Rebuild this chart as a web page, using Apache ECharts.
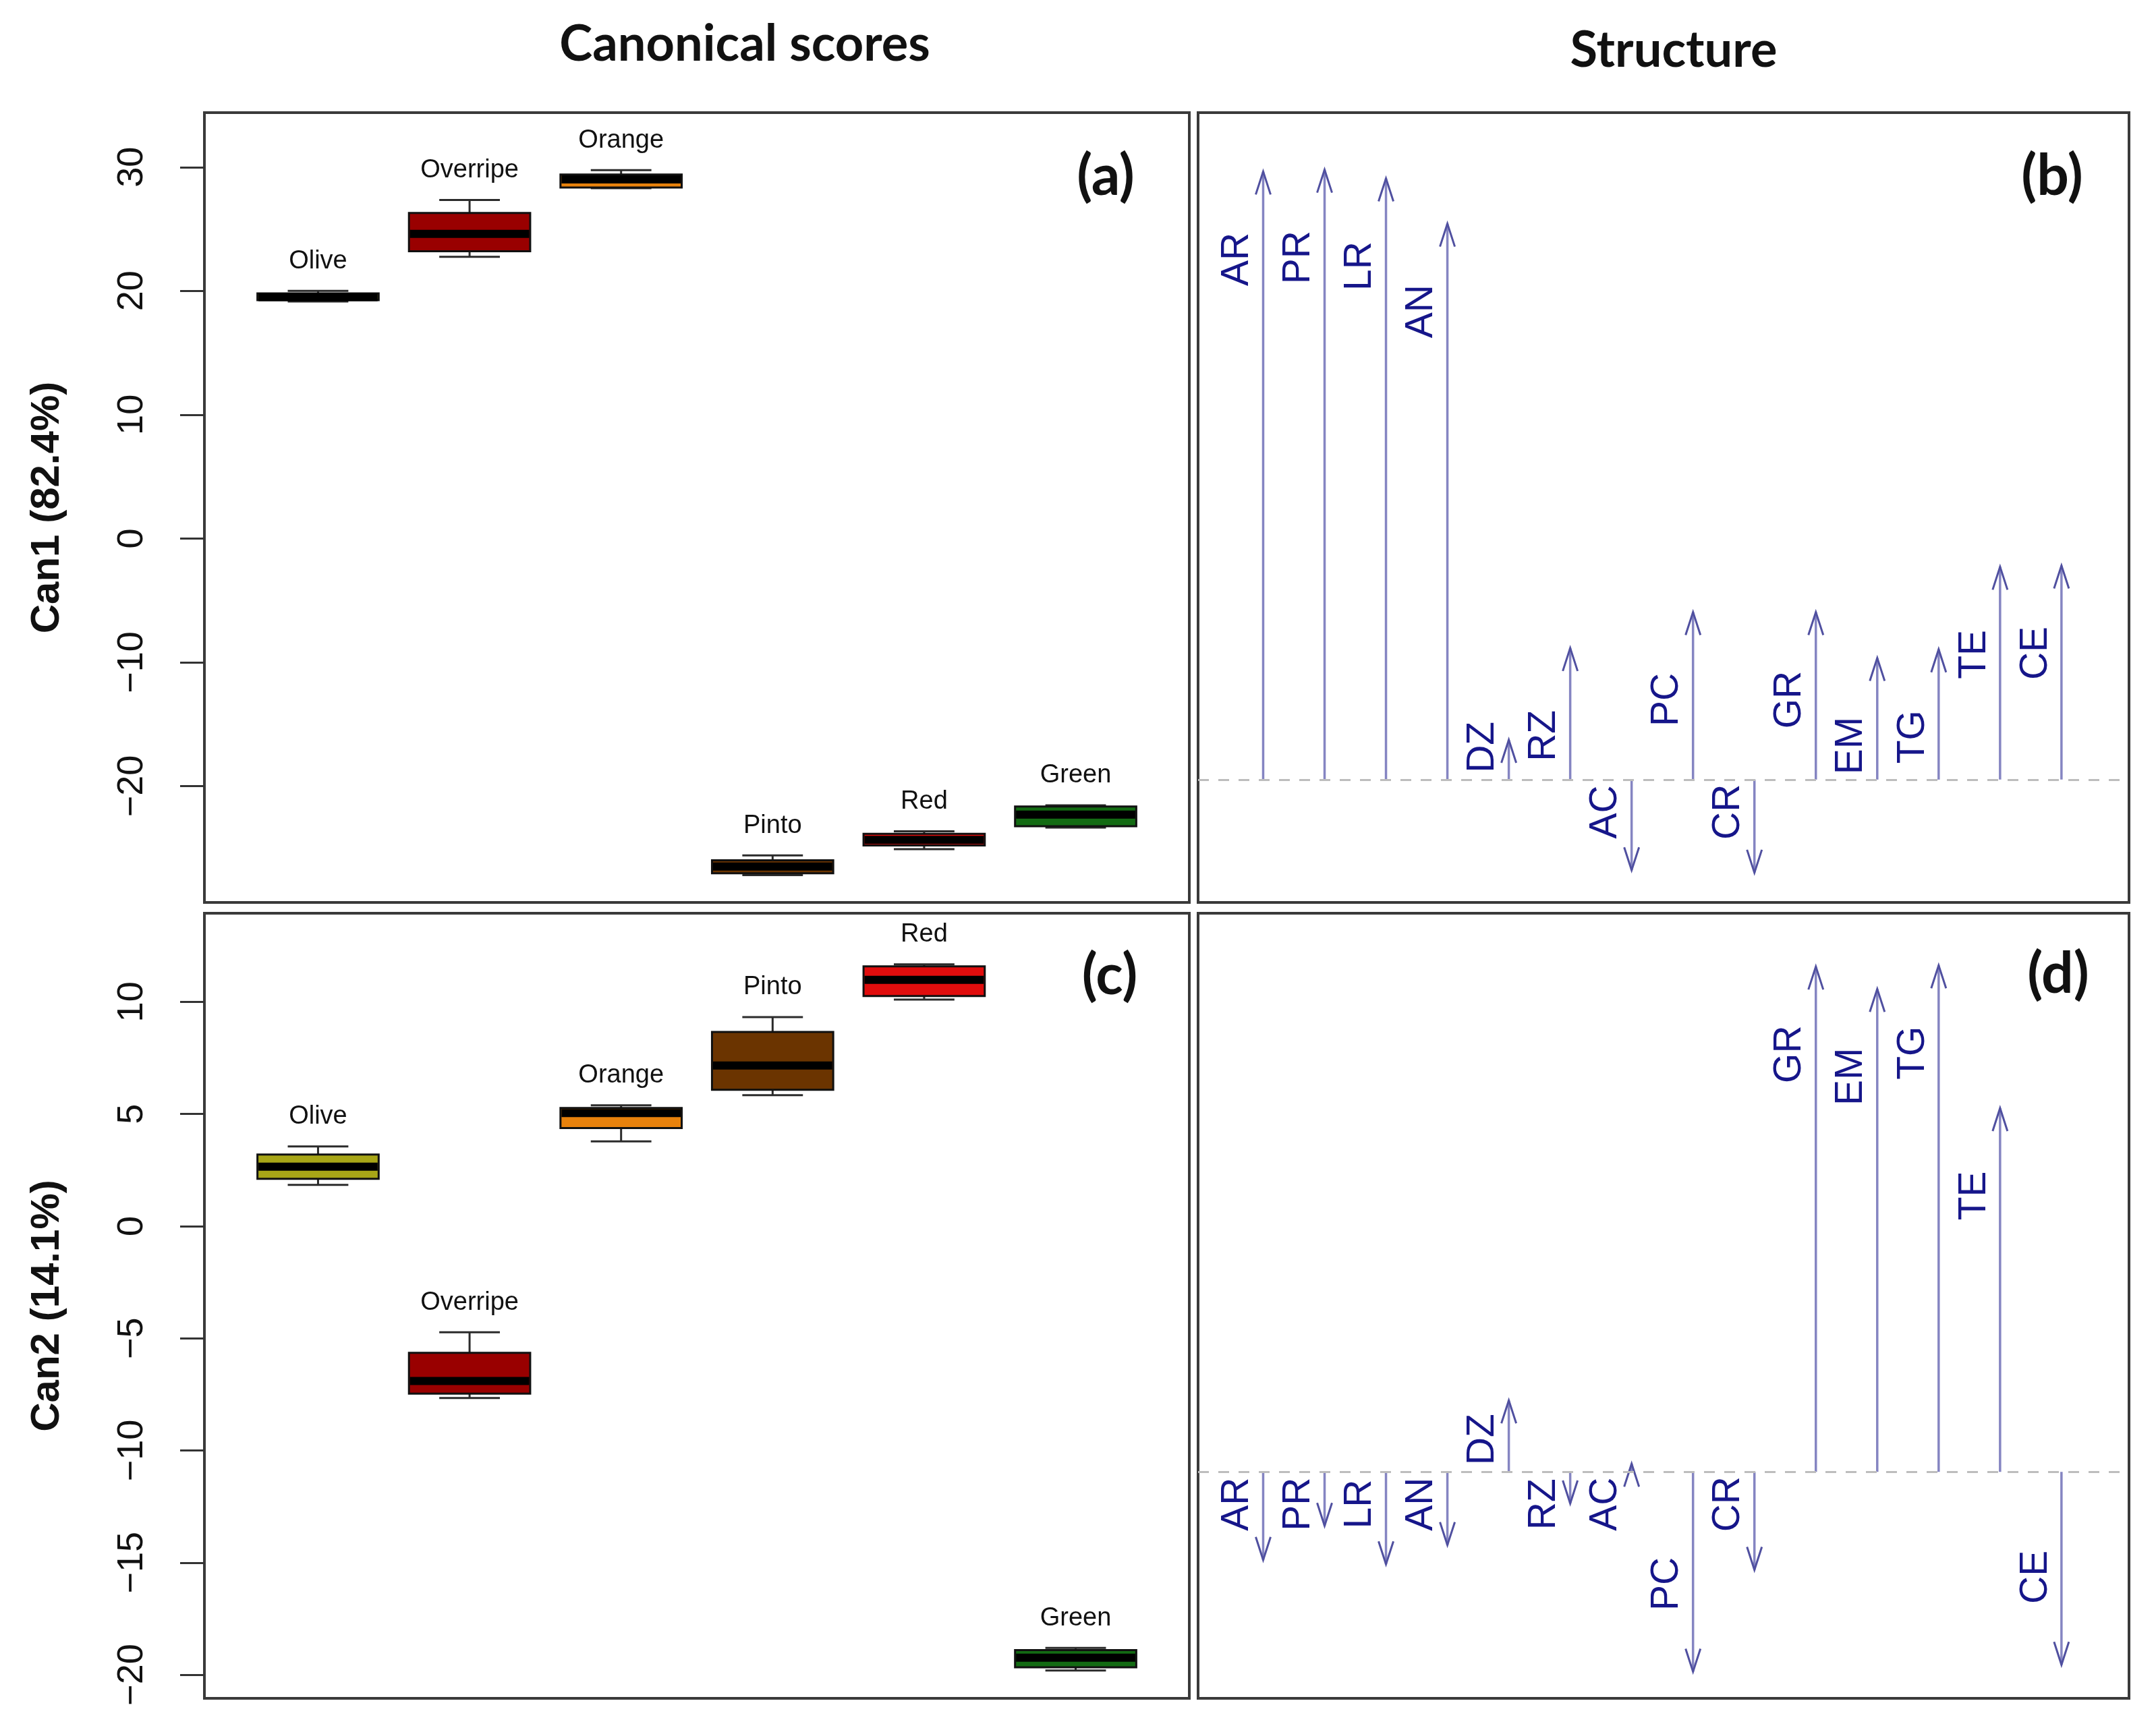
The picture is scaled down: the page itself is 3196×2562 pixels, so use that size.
<!DOCTYPE html>
<html><head><meta charset="utf-8">
<script src="https://cdn.jsdelivr.net/npm/echarts@6/dist/echarts.min.js"></script>
<style>html,body{margin:0;padding:0;background:#fff}#main{width:3196px;height:2562px}</style>
</head><body><div id="main"></div>
<script>
// ---------- data ----------
const groups = ['Olive', 'Overripe', 'Orange', 'Pinto', 'Red', 'Green'];
// [min, Q1, median, Q3, max]
const can1Scores = [
  [19.15, 19.25, 19.5, 19.8, 20.0],
  [22.75, 23.2, 24.6, 26.3, 27.35],
  [28.3, 28.35, 29.0, 29.4, 29.75],
  [-27.2, -27.05, -26.5, -26.0, -25.6],
  [-25.1, -24.8, -24.35, -23.85, -23.65],
  [-23.35, -23.25, -22.3, -21.65, -21.55]
];
const can2Scores = [
  [1.84, 2.11, 2.65, 3.19, 3.55],
  [-7.66, -7.47, -6.9, -5.65, -4.73],
  [3.78, 4.37, 5.04, 5.27, 5.39],
  [5.84, 6.08, 7.16, 8.66, 9.32],
  [10.1, 10.26, 10.98, 11.58, 11.67],
  [-19.81, -19.67, -19.24, -18.9, -18.8]
];
const structVars = ['AR', 'PR', 'LR', 'AN', 'DZ', 'RZ', 'AC', 'PC', 'CR', 'GR', 'EM', 'TG', 'TE', 'CE'];
const can1Structure = [0.980, 0.983, 0.969, 0.896, 0.064, 0.212, -0.146, 0.270, -0.150, 0.270, 0.196, 0.210, 0.343, 0.345];
const can2Structure = [-0.142, -0.087, -0.149, -0.118, 0.115, -0.051, 0.013, -0.322, -0.158, 0.814, 0.778, 0.816, 0.586, -0.311];
const can1Ticks = [-20, -10, 0, 10, 20, 30];
const can2Ticks = [-20, -15, -10, -5, 0, 5, 10];

// ---------- styles ----------
const groupColors = ['#a8a617', '#990000', '#e8820c', '#6b3400', '#e00d0d', '#136b13'];
const arrowLine = '#8585c2';
const arrowHead = '#5050a0';
const arrowText = '#16168a';

function fmt(v) { return v < 0 ? '\u2212' + Math.abs(v) : String(v); }

function boxRender(params, api) {
  const x = api.value(0);
  const idx = api.value(6);
  const pMin = api.coord([x, api.value(1)]);
  const pQ1 = api.coord([x, api.value(2)]);
  const pMed = api.coord([x, api.value(3)]);
  const pQ3 = api.coord([x, api.value(4)]);
  const pMax = api.coord([x, api.value(5)]);
  const half = api.size([0.8, 0])[0] / 2;
  const cap = half / 2;
  const cx = pMin[0];
  const ls = { stroke: '#2b2b2b', lineWidth: 3 };
  return {
    type: 'group',
    children: [
      { type: 'line', shape: { x1: cx, y1: pMax[1], x2: cx, y2: pQ3[1] }, style: ls },
      { type: 'line', shape: { x1: cx, y1: pQ1[1], x2: cx, y2: pMin[1] }, style: ls },
      { type: 'line', shape: { x1: cx - cap, y1: pMax[1], x2: cx + cap, y2: pMax[1] }, style: ls },
      { type: 'line', shape: { x1: cx - cap, y1: pMin[1], x2: cx + cap, y2: pMin[1] }, style: ls },
      { type: 'rect', shape: { x: cx - half, y: pQ3[1], width: 2 * half, height: pQ1[1] - pQ3[1] },
        style: { fill: groupColors[idx], stroke: '#111', lineWidth: 3 } },
      { type: 'line', shape: { x1: cx - half + 1.5, y1: pMed[1], x2: cx + half - 1.5, y2: pMed[1] },
        style: { stroke: '#000', lineWidth: 12 } },
      { type: 'text', x: cx, y: pMax[1] - 44,
        style: { text: groups[idx], fill: '#111', fontSize: 38, fontFamily: 'Liberation Sans',
                 align: 'center', verticalAlign: 'middle' } }
    ]
  };
}

function arrowRender(params, api) {
  const x = api.value(0), r = api.value(1), idx = api.value(2);
  const p0 = api.coord([x, 0]);
  const p1 = api.coord([x, r]);
  const dir = r >= 0 ? 1 : -1;
  const L = Math.abs(p1[1] - p0[1]);
  const side = r > 0.03 ? 1 : -1;
  const off = Math.max(48, L - 130);
  const ly = p0[1] - side * off;
  return {
    type: 'group',
    children: [
      { type: 'line', shape: { x1: p0[0], y1: p0[1], x2: p1[0], y2: p1[1] },
        style: { stroke: arrowLine, lineWidth: 3.5 } },
      { type: 'polyline', shape: { points: [[p1[0] - 11, p1[1] + dir * 34], [p1[0], p1[1]], [p1[0] + 11, p1[1] + dir * 34]] },
        style: { stroke: arrowHead, lineWidth: 3, fill: null } },
      { type: 'text', x: p0[0] - 38, y: ly, rotation: Math.PI / 2,
        style: { text: structVars[idx], fill: arrowText, fontSize: 57, fontFamily: 'Liberation Sans',
                 align: 'center', verticalAlign: 'middle' } }
    ]
  };
}

function scoreYAxis(gridIndex, min, max, ticks, name) {
  return {
    type: 'value', gridIndex: gridIndex, min: min, max: max,
    name: name, nameLocation: 'middle', nameRotate: 90, nameGap: 203,
    nameTextStyle: { fontSize: 60, fontWeight: 'bold', fontFamily: 'Liberation Sans', color: '#111' },
    axisLine: { show: false },
    axisTick: { show: true, length: 36, customValues: ticks, lineStyle: { color: '#333', width: 3 } },
    axisLabel: { show: true, rotate: 90, margin: 80, customValues: ticks, formatter: fmt,
                 fontSize: 54, fontFamily: 'Liberation Sans', color: '#111' },
    splitLine: { show: false }
  };
}
function plainYAxis(gridIndex, min, max) {
  return { type: 'value', gridIndex: gridIndex, min: min, max: max, show: false, splitLine: { show: false } };
}

const gridStyle = { show: true, borderColor: '#3a3a3a', borderWidth: 4, backgroundColor: 'transparent' };
const dashed = {
  silent: true, symbol: 'none', label: { show: false },
  lineStyle: { type: [16, 14], color: '#bdbdbd', width: 3 },
  data: [{ yAxis: 0 }]
};

const option = {
  backgroundColor: '#fff',
  animation: false,
  grid: [
    Object.assign({ left: 303, top: 167, width: 1460, height: 1171 }, gridStyle),
    Object.assign({ left: 1776, top: 167, width: 1380, height: 1171 }, gridStyle),
    Object.assign({ left: 303, top: 1354, width: 1460, height: 1164 }, gridStyle),
    Object.assign({ left: 1776, top: 1354, width: 1380, height: 1164 }, gridStyle)
  ],
  xAxis: [
    { type: 'value', gridIndex: 0, min: 0.25, max: 6.75, show: false, splitLine: { show: false } },
    { type: 'value', gridIndex: 1, min: -0.06, max: 15.1, show: false, splitLine: { show: false } },
    { type: 'value', gridIndex: 2, min: 0.25, max: 6.75, show: false, splitLine: { show: false } },
    { type: 'value', gridIndex: 3, min: -0.06, max: 15.1, show: false, splitLine: { show: false } }
  ],
  yAxis: [
    scoreYAxis(0, -29.4, 34.4, can1Ticks, 'Can1 (82.4%)'),
    plainYAxis(1, -0.198, 1.075),
    scoreYAxis(2, -21.05, 13.95, can2Ticks, 'Can2 (14.1%)'),
    plainYAxis(3, -0.365, 0.9)
  ],
  series: [
    { type: 'custom', xAxisIndex: 0, yAxisIndex: 0, renderItem: boxRender,
      encode: { x: 0, y: [1, 2, 3, 4, 5] },
      data: groups.map((g, i) => [i + 1].concat(can1Scores[i], [i])) },
    { type: 'custom', xAxisIndex: 1, yAxisIndex: 1, renderItem: arrowRender,
      encode: { x: 0, y: 1 }, markLine: dashed,
      data: structVars.map((v, i) => [i + 1, can1Structure[i], i]) },
    { type: 'custom', xAxisIndex: 2, yAxisIndex: 2, renderItem: boxRender,
      encode: { x: 0, y: [1, 2, 3, 4, 5] },
      data: groups.map((g, i) => [i + 1].concat(can2Scores[i], [i])) },
    { type: 'custom', xAxisIndex: 3, yAxisIndex: 3, renderItem: arrowRender,
      encode: { x: 0, y: 1 }, markLine: dashed,
      data: structVars.map((v, i) => [i + 1, can2Structure[i], i]) }
  ],
  graphic: { elements: [
    { type: 'text', x: 1104, y: 66, style: { text: 'Canonical scores', fontSize: 74, fontWeight: 'bold', fontFamily: 'Lato', fill: '#111', align: 'center', verticalAlign: 'middle' } },
    { type: 'text', x: 2481, y: 75, style: { text: 'Structure', fontSize: 74, fontWeight: 'bold', fontFamily: 'Lato', fill: '#111', align: 'center', verticalAlign: 'middle' } },
    { type: 'text', x: 1639, y: 262, style: { text: '(a)', fontSize: 84, fontWeight: 'bold', fontFamily: 'Lato', fill: '#111', align: 'center', verticalAlign: 'middle' } },
    { type: 'text', x: 3042, y: 262, style: { text: '(b)', fontSize: 84, fontWeight: 'bold', fontFamily: 'Lato', fill: '#111', align: 'center', verticalAlign: 'middle' } },
    { type: 'text', x: 1645, y: 1447, style: { text: '(c)', fontSize: 84, fontWeight: 'bold', fontFamily: 'Lato', fill: '#111', align: 'center', verticalAlign: 'middle' } },
    { type: 'text', x: 3051, y: 1445, style: { text: '(d)', fontSize: 84, fontWeight: 'bold', fontFamily: 'Lato', fill: '#111', align: 'center', verticalAlign: 'middle' } }
  ] }
};

const chart = echarts.init(document.getElementById('main'));
chart.setOption(option);
</script>
</body></html>
